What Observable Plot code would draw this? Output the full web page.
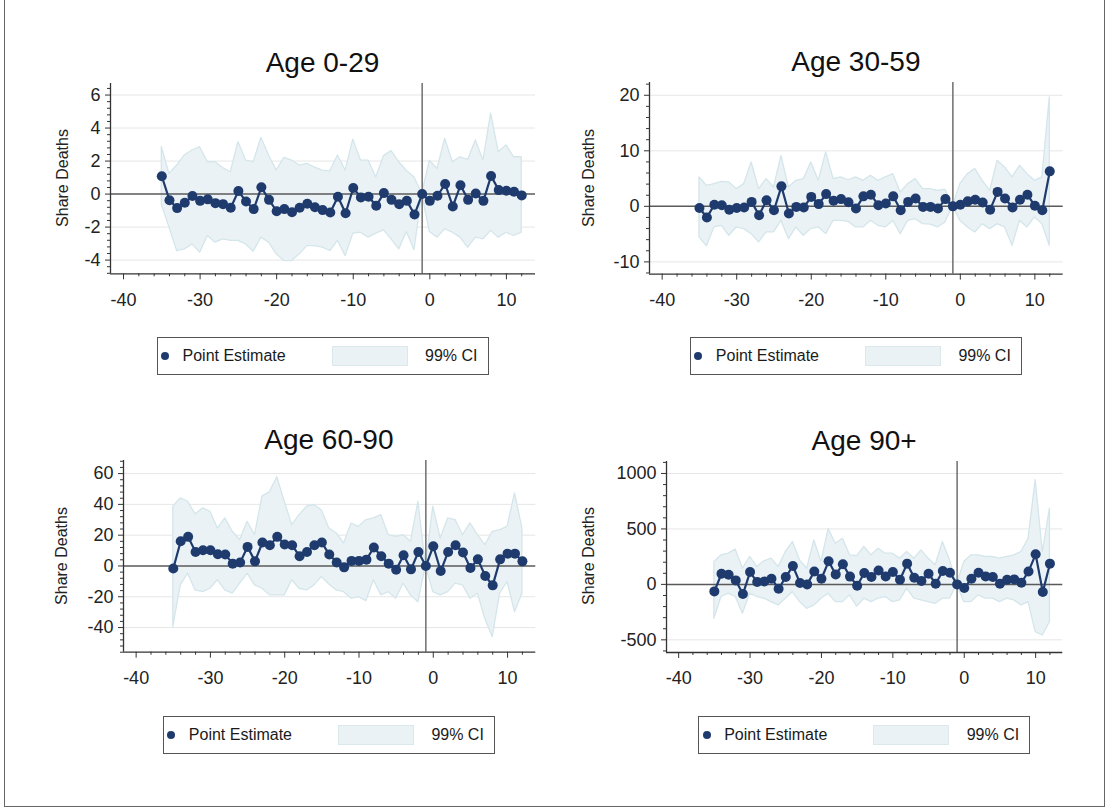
<!DOCTYPE html>
<html>
<head>
<meta charset="utf-8">
<script src="https://cdn.jsdelivr.net/npm/d3@7"></script>
<script src="https://cdn.jsdelivr.net/npm/@observablehq/plot@0.6"></script>
<style>
  body { margin: 0; background: #fff; font-family: "Liberation Sans", Arial, sans-serif; color: #1a1a1a; }
  #root { position: relative; width: 1109px; height: 811px; overflow: hidden; background: #fff; }
  .abs { position: absolute; }
  .title { position: absolute; font-size: 28px; transform: translate(-50%, -50%); white-space: nowrap; color: #111; }
  .ylab { position: absolute; font-size: 16px; transform: translate(-50%, -50%) rotate(-90deg); white-space: nowrap; color: #222; }
  .legend { position: absolute; border: 1px solid #555; background: #fff; box-sizing: border-box; }
  .legend .dot { position: absolute; width: 8px; height: 8px; border-radius: 50%; background: #1f3b6e; }
  .legend .t { position: absolute; font-size: 16px; white-space: nowrap; color: #1a1a1a; transform: translateY(-50%); }
  .legend .sw { position: absolute; background: #eaf2f5; border: 1px solid #dbe8ec; box-sizing: border-box; }
  .frame { position: absolute; border: 1.5px solid #666; box-sizing: border-box; }
</style>
</head>
<body>
<div id="root"></div>
<script>
// ---------------- DATA ----------------
const periods = [-35,-34,-33,-32,-31,-30,-29,-28,-27,-26,-25,-24,-23,-22,-21,-20,-19,-18,-17,-16,-15,-14,-13,-12,-11,-10,-9,-8,-7,-6,-5,-4,-3,-2,-1,0,1,2,3,4,5,6,7,8,9,10,11,12];

const titles = ["Age 0-29", "Age 30-59", "Age 60-90", "Age 90+"];
const yLabel = "Share Deaths";
const legendPoint = "Point Estimate";
const legendCI = "99% CI";
const xTicks = [-40, -30, -20, -10, 0, 10];

// Age 0-29
const est0_29 = [1.08,-0.37,-0.85,-0.53,-0.12,-0.41,-0.32,-0.55,-0.61,-0.83,0.18,-0.45,-0.91,0.41,-0.35,-1.04,-0.91,-1.10,-0.83,-0.59,-0.80,-0.97,-1.12,-0.16,-1.16,0.37,-0.20,-0.16,-0.71,0.06,-0.35,-0.61,-0.41,-1.24,0,-0.41,-0.10,0.61,-0.75,0.53,-0.35,0.04,-0.41,1.10,0.24,0.20,0.14,-0.08];
const lo0_29  = [-0.65,-2.03,-3.45,-3.35,-3.05,-3.55,-2.54,-2.94,-2.74,-2.84,-2.84,-3.05,-3.49,-2.64,-2.94,-3.65,-4.06,-4.06,-3.65,-3.15,-3.15,-3.25,-3.45,-2.84,-3.76,-2.40,-2.34,-2.64,-2.40,-2.20,-2.74,-3.35,-2.30,-3.40,0,-2.30,-2.64,-2.13,-2.34,-2.64,-3.25,-2.64,-2.74,-2.23,-2.64,-2.34,-2.54,-2.34];
const hi0_29  = [2.84,1.22,1.73,2.34,2.64,2.84,1.93,1.93,1.58,1.32,3.15,2.03,1.93,3.41,2.34,1.42,2.19,2.03,1.73,1.83,1.60,1.42,1.38,2.34,1.42,3.30,2.03,2.03,1.00,2.30,2.60,1.93,1.40,1.00,0,2.03,1.52,3.35,1.93,2.23,2.07,3.25,2.03,4.87,2.54,2.95,2.23,2.23];

// Age 30-59
const est30_59 = [-0.3,-2.0,0.3,0.2,-0.6,-0.3,-0.2,0.8,-1.6,1.1,-0.7,3.6,-1.3,-0.1,-0.2,1.7,0.4,2.2,1.0,1.3,0.75,-0.4,1.8,2.1,0.2,0.5,1.8,-0.7,0.8,1.4,-0.1,-0.1,-0.4,1.3,0,0.3,0.9,1.2,0.7,-0.6,2.6,1.4,-0.2,1.2,2.1,0.1,-0.7,6.3];
const lo30_59  = [-5.6,-7.2,-3.8,-3.5,-5.3,-3.8,-4.1,-5.0,-6.5,-4.7,-4.7,-2.6,-5.9,-3.8,-5.3,-4.1,-3.8,-5.0,-2.6,-2.6,-2.8,-3.8,-3.8,-2.6,-3.5,-3.8,-2.6,-5.0,-2.6,-2.3,-3.2,-3.3,-3.8,-2.9,0,-2.6,-3.8,-4.7,-3.2,-4.1,-3.2,-3.8,-7.1,-2.6,-3.8,-2.0,-3.2,-7.1];
const hi30_59  = [5.2,3.7,4.0,4.4,4.3,3.1,4.0,7.9,3.1,4.9,3.4,9.1,3.4,4.6,4.9,7.9,4.6,9.7,4.9,5.2,4.7,5.2,4.6,5.5,4.6,5.2,5.8,2.5,4.0,4.9,3.1,3.1,2.8,3.0,0,4.0,5.8,6.7,4.6,2.8,8.2,7.0,5.2,7.3,5.8,4.6,5.2,19.6];

// Age 60-90
const est60_90 = [-1.7,16.1,18.9,9.1,10.2,10.2,7.6,7.4,1.5,2.2,12.4,3.0,15.2,13.5,18.9,13.9,13.5,6.3,9.1,13.5,15.2,7.4,2.2,-0.9,3.3,3.3,4.1,12.0,6.3,1.5,-2.4,7.0,-2.2,9.1,0,12.8,-3.3,9.1,13.5,8.7,-1.3,4.3,-6.5,-12.6,4.3,8.0,8.0,3.0];
const lo60_90  = [-39.8,-12.6,-5.0,-15.9,-17.0,-14.8,-9.3,-15.9,-18.0,-11.5,-5.0,-12.6,-14.8,-19.1,-19.1,-19.1,-9.3,-14.8,-15.9,-12.6,-7.2,-12.0,-15.9,-17.0,-21.3,-20.2,-22.8,-9.3,-19.1,-17.0,-21.3,-11.5,-19.1,-23.5,0,-17.0,-19.1,-17.0,-11.5,-12.6,-21.3,-18.0,-34.3,-46.3,-18.0,-10.4,-30.0,-18.0];
const hi60_90  = [38.5,43.9,41.7,33.5,37.4,35.2,24.3,30.9,22.2,16.7,28.7,20.0,45.0,47.8,57.6,41.7,26.5,33.0,38.5,39.6,36.0,24.3,21.1,14.6,27.6,25.4,29.8,30.9,33.0,20.0,18.9,20.0,15.7,41.7,0,38.5,17.8,30.9,29.8,20.0,27.6,20.0,13.5,22.2,23.3,25.4,47.2,24.3];

// Age 90+
const est90 = [-63,96,87,36,-87,111,21,27,51,-39,66,166,12,0,117,51,208,90,181,70,-12,102,66,126,72,111,42,187,60,30,96,6,120,105,0,-33,51,105,72,66,6,42,45,15,117,271,-69,187];
const lo90  = [-310,-114,-84,-114,-265,-84,-114,-129,-160,-190,-129,-69,-160,-220,-190,-129,-84,-160,-160,-99,-200,-129,-160,-129,-114,-160,-144,-39,-129,-144,-160,-175,-129,-129,0,-160,-160,-99,-129,-129,-160,-129,-144,-190,-160,-430,-461,-340];
const hi90  = [202,262,277,313,141,247,157,208,232,157,292,382,217,141,397,202,500,367,412,262,255,337,262,322,277,277,232,292,232,307,232,172,382,217,0,202,262,262,247,247,232,247,262,292,412,939,292,683];

// y-axis ticks per panel
const yTicks0_29  = [-4, -2, 0, 2, 4, 6];
const yTicks30_59 = [-10, 0, 10, 20];
const yTicks60_90 = [-40, -20, 0, 20, 40, 60];
const yTicks90    = [-500, 0, 500, 1000];

// ---------------- LAYOUT ----------------
const navy = "#1f3b6e";
const xDomain = [-41.7, 13.8];
const xMinor = d3.range(-40, 13, 2).filter(v => v % 10 !== 0);
const FONT = "'Liberation Sans', Arial, sans-serif";

const panels = [
  {title: titles[0], est: est0_29, lo: lo0_29, hi: hi0_29, yTicks: yTicks0_29, yMinorStep: 0.4, yDomain: [-4.83, 6.7],
   fl: 110, fr: 535, ft: 82.7, fb: 273, ylx: 63},
  {title: titles[1], est: est30_59, lo: lo30_59, hi: hi30_59, yTicks: yTicks30_59, yMinorStep: 2, yDomain: [-12.2, 22.3],
   fl: 649, fr: 1062.7, ft: 81.7, fb: 273.3, ylx: 589},
  {title: titles[2], est: est60_90, lo: lo60_90, hi: hi60_90, yTicks: yTicks60_90, yMinorStep: 4, yDomain: [-56, 68.5],
   fl: 122.7, fr: 535, ft: 460, fb: 651.7, ylx: 62},
  {title: titles[3], est: est90, lo: lo90, hi: hi90, yTicks: yTicks90, yMinorStep: 100, yDomain: [-614, 1108],
   fl: 666, fr: 1062.3, ft: 460.7, fb: 651.7, ylx: 589},
];

const root = document.getElementById("root");

const outer = document.createElement("div");
outer.className = "frame";
Object.assign(outer.style, {left: "4px", top: "-3px", width: "1101px", height: "810px"});
root.appendChild(outer);

function minorTicks(domain, step, majors) {
  const start = Math.ceil(domain[0] / step) * step;
  const out = [];
  for (let v = start; v <= domain[1] + 1e-9; v += step) {
    const r = Math.round(v * 1000) / 1000;
    if (!majors.some(m => Math.abs(m - r) < 1e-6)) out.push(r);
  }
  return out;
}

for (const p of panels) {
  const ML = 70, MR = 20, MT = 10, MB = 45;
  const data = periods.map((x, i) => ({x, est: p.est[i], lo: p.lo[i], hi: p.hi[i]}));
  const yMinor = minorTicks(p.yDomain, p.yMinorStep, p.yTicks);
  const fmt = d => String(d);
  const svg = Plot.plot({
    width: p.fr - p.fl + ML + MR,
    height: p.fb - p.ft + MT + MB,
    marginLeft: ML, marginRight: MR, marginTop: MT, marginBottom: MB,
    style: {fontFamily: FONT, fontSize: "18px", color: "#222", background: "transparent", overflow: "visible", maxWidth: "none"},
    x: {domain: xDomain, axis: null, label: null},
    y: {domain: p.yDomain, axis: null, label: null},
    marks: [
      Plot.ruleY(p.yTicks.filter(v => v !== 0), {stroke: "#e6e6e6", strokeWidth: 1}),
      Plot.areaY(data, {x: "x", y1: "lo", y2: "hi", fill: "#eaf2f5", stroke: "#d4e6eb", strokeWidth: 1.3}),
      Plot.ruleY([0], {stroke: "#5a5a5a", strokeWidth: 1.5}),
      Plot.ruleX([-1], {stroke: "#6e6e6e", strokeWidth: 1.5}),
      Plot.line(data, {x: "x", y: "est", stroke: navy, strokeWidth: 2.2}),
      Plot.dot(data, {x: "x", y: "est", r: 5, fill: navy, stroke: "none"}),
      Plot.ruleX([xDomain[0]], {stroke: "#333", strokeWidth: 1.3}),
      Plot.ruleY([p.yDomain[0]], {stroke: "#333", strokeWidth: 1.3}),
      Plot.axisY({ticks: yMinor, tickSize: 3, tickFormat: () => "", label: null, stroke: "#333"}),
      Plot.axisY({ticks: p.yTicks, tickSize: 5, tickPadding: 5, tickFormat: fmt, label: null, fontSize: 18, stroke: "#333"}),
      Plot.axisX({ticks: xMinor, tickSize: 3, tickFormat: () => "", label: null, stroke: "#333"}),
      Plot.axisX({ticks: xTicks, tickSize: 6, tickPadding: 13, tickFormat: fmt, label: null, fontSize: 18, stroke: "#333"}),
    ]
  });
  const wrap = document.createElement("div");
  wrap.className = "abs";
  Object.assign(wrap.style, {left: (p.fl - ML) + "px", top: (p.ft - MT) + "px", width: (p.fr - p.fl + ML + MR) + "px"});
  wrap.appendChild(svg);
  root.appendChild(wrap);

  const cx = (p.fl + p.fr) / 2;
  const t = document.createElement("div");
  t.className = "title";
  t.textContent = p.title;
  Object.assign(t.style, {left: cx + "px", top: (p.ft - 20) + "px"});
  root.appendChild(t);

  const yl = document.createElement("div");
  yl.className = "ylab";
  yl.textContent = yLabel;
  Object.assign(yl.style, {left: p.ylx + "px", top: ((p.ft + p.fb) / 2) + "px"});
  root.appendChild(yl);

  const W = 332, H = 38;
  const lg = document.createElement("div");
  lg.className = "legend";
  Object.assign(lg.style, {left: (cx - W / 2) + "px", top: (p.fb + 64) + "px", width: W + "px", height: H + "px"});
  lg.innerHTML =
    `<div class="dot" style="left:3.5px;top:${H/2 - 5}px"></div>` +
    `<div class="t" style="left:25px;top:${H/2 - 1}px">${legendPoint}</div>` +
    `<div class="sw" style="left:174px;top:${H/2 - 11}px;width:76px;height:20px"></div>` +
    `<div class="t" style="right:10px;top:${H/2 - 1}px">${legendCI}</div>`;
  root.appendChild(lg);
}
</script>
</body>
</html>
